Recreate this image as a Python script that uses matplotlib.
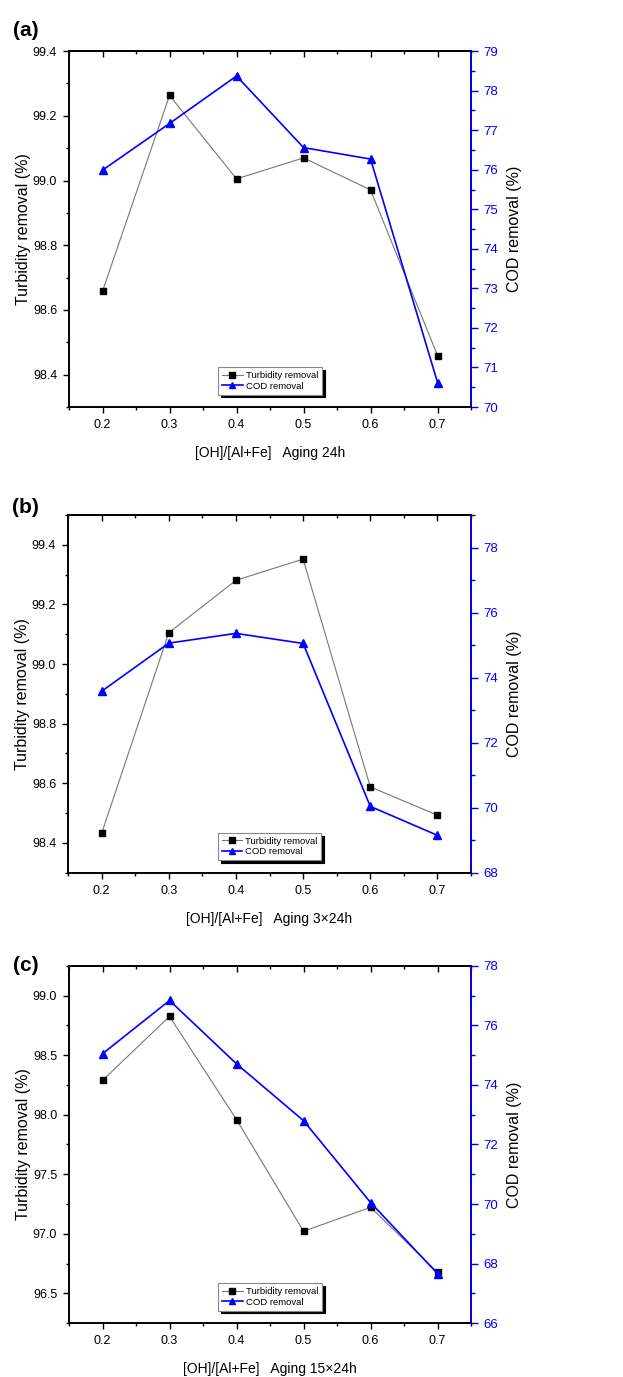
import matplotlib
matplotlib.use("Agg")
import matplotlib.pyplot as plt
from matplotlib.ticker import MultipleLocator

plt.rcParams['font.family'] = ['Liberation Sans', 'DejaVu Sans']

ratio = [0.2, 0.3, 0.4, 0.5, 0.6, 0.7]

# panel (a) aging 24h
turb_a = [98.658, 99.263, 99.005, 99.070, 98.971, 98.459]
cod_a = [75.99, 77.17, 78.37, 76.56, 76.27, 70.62]

# panel (b) aging 3x24h
turb_b = [98.432, 99.105, 99.281, 99.352, 98.588, 98.493]
cod_b = [73.58, 75.06, 75.36, 75.05, 70.04, 69.15]

# panel (c) aging 15x24h
turb_c = [98.289, 98.826, 97.959, 97.021, 97.222, 96.676]
cod_c = [75.05, 76.84, 74.71, 72.80, 70.05, 67.66]

xlabels = ["[OH]/[Al+Fe]   Aging 24h",
           "[OH]/[Al+Fe]   Aging 3\u00d724h",
           "[OH]/[Al+Fe]   Aging 15\u00d724h"]

panels = [
    ("(a)", turb_a, cod_a, (98.3, 99.4), 0.2, (70, 79), 1, [0.1108, 0.7044, 0.6453, 0.2585], 1.03),
    ("(b)", turb_b, cod_b, (98.3, 99.5), 0.2, (68, 79), 2, [0.1092, 0.3662, 0.6469, 0.2598], 0.995),
    ("(c)", turb_c, cod_c, (96.25, 99.25), 0.5, (66, 78), 2, [0.1108, 0.0392, 0.6453, 0.2593], 0.975),
]

fig = plt.figure(figsize=(6.23, 13.77), dpi=100)
blue = '#0000ff'

for i, (tag, turb, cod, ylim1, step1, ylim2, step2, pos, tag_y) in enumerate(panels):
    ax = fig.add_axes(pos)
    ax2 = ax.twinx()

    l1, = ax.plot(ratio, turb, color='#777777', lw=0.8, marker='s', ms=5,
                  mfc='black', mec='black', label='Turbidity removal')
    l2, = ax2.plot(ratio, cod, color=blue, lw=1.2, marker='^', ms=6,
                   mfc=blue, mec=blue, label='COD removal')

    ax.set_xlim(0.15, 0.75)
    ax.set_ylim(*ylim1)
    ax2.set_ylim(*ylim2)

    ax.xaxis.set_major_locator(MultipleLocator(0.1))
    ax.xaxis.set_minor_locator(MultipleLocator(0.05))
    ax.yaxis.set_major_locator(MultipleLocator(step1))
    ax.yaxis.set_minor_locator(MultipleLocator(step1 / 2))
    ax2.yaxis.set_major_locator(MultipleLocator(step2))
    ax2.yaxis.set_minor_locator(MultipleLocator(step2 / 2))
    ax.xaxis.set_major_formatter(plt.FormatStrFormatter('%.1f'))
    ax.yaxis.set_major_formatter(plt.FormatStrFormatter('%.1f'))

    ax.tick_params(which='both', direction='out', labelsize=9, width=1)
    ax.tick_params(which='major', length=4.5, pad=4)
    ax.tick_params(which='minor', length=2.5)
    ax2.tick_params(which='both', direction='out', labelsize=9.5, width=1,
                    colors=blue)
    ax2.tick_params(which='major', length=5, pad=4)
    ax2.tick_params(which='minor', length=3)

    top = ax.secondary_xaxis('top')
    top.xaxis.set_major_locator(MultipleLocator(0.1))
    top.xaxis.set_minor_locator(MultipleLocator(0.05))
    top.tick_params(which='both', direction='in', labeltop=False, width=1)
    top.tick_params(which='major', length=4)
    top.tick_params(which='minor', length=2.5)

    for s in ax.spines.values():
        s.set_linewidth(1.2)
    for s in ax2.spines.values():
        s.set_linewidth(1.2)
    ax2.spines['right'].set_color(blue)
    top.spines['top'].set_linewidth(1.2)

    ax.set_ylabel("Turbidity removal (%)", fontsize=11.5, labelpad=1)
    ax2.set_ylabel("COD removal (%)", fontsize=11.5, labelpad=6, color='black')
    ax.set_xlabel(xlabels[i], fontsize=10, labelpad=11)

    ax.text(-0.14, tag_y, tag, transform=ax.transAxes, fontsize=15,
            fontweight='bold', va='bottom', ha='left')

    leg = ax2.legend([l1, l2], ['Turbidity removal', 'COD removal'],
                     loc='lower center', bbox_to_anchor=(0.5, 0.035),
                     fontsize=6.8, frameon=True, fancybox=False,
                     shadow={'color': 'black', 'alpha': 1},
                     handlelength=2.2, handletextpad=0.3, borderpad=0.4,
                     labelspacing=0.2, borderaxespad=0, markerscale=0.8)
    leg.get_frame().set_edgecolor('#888888')
    leg.get_frame().set_linewidth(0.8)

fig.savefig("out.png", dpi=100)
